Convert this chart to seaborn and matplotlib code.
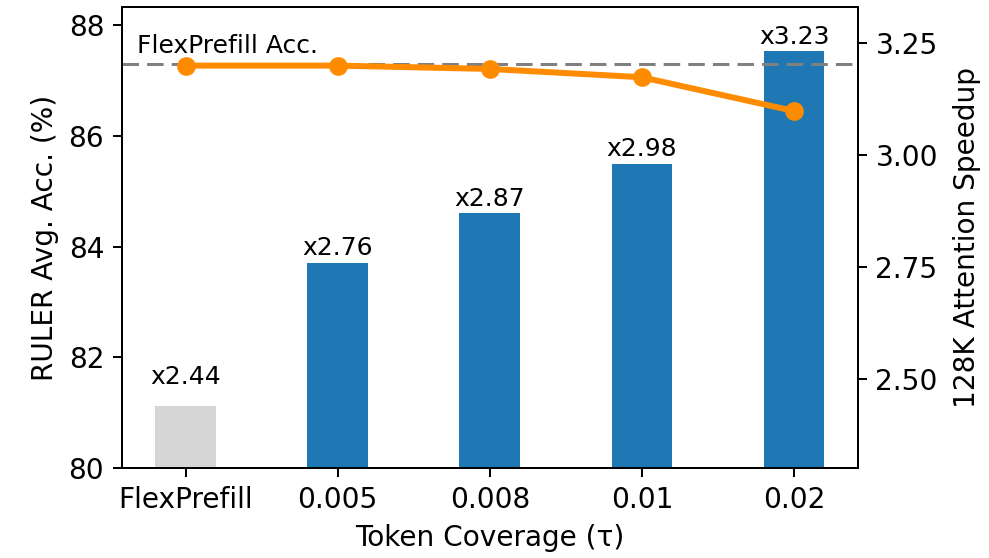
import matplotlib
matplotlib.use("Agg")
import matplotlib.pyplot as plt
from matplotlib.ticker import MultipleLocator
import seaborn as sns

# Data
categories = ["FlexPrefill", "0.005", "0.008", "0.01", "0.02"]
accuracy = [87.27, 87.27, 87.21, 87.06, 86.45]
speedup = [2.44, 2.76, 2.87, 2.98, 3.23]
speedup_labels = ["x2.44", "x2.76", "x2.87", "x2.98", "x3.23"]
baseline_acc = 87.3
bar_colors = ["#d6d6d6", "#1f77b4", "#1f77b4", "#1f77b4", "#1f77b4"]

plt.rcParams["font.size"] = 11.2

fig = plt.figure(figsize=(989 / 180, 558 / 180), dpi=180)
ax = fig.add_axes([0.123, 0.161, 0.7445, 0.8256])
ax2 = ax.twinx()

# Speedup bars on the right axis
sns.barplot(x=categories, y=speedup, hue=categories, palette=bar_colors,
            legend=False, width=0.4, saturation=1, ax=ax2)
label_pad = [7, 1, 1, 1, 1]
for cont, lab, pad in zip(ax2.containers, speedup_labels, label_pad):
    ax2.bar_label(cont, labels=[lab], padding=pad, fontsize=10)
ax2.set_ylim(2.302, 3.328)
ax2.yaxis.set_major_locator(MultipleLocator(0.25))
ax2.set_ylabel("128K Attention Speedup", fontsize=11.2, labelpad=6)

# Accuracy line on the left axis, drawn above the bars
ax.set_zorder(ax2.get_zorder() + 1)
ax.patch.set_visible(False)
sns.lineplot(x=categories, y=accuracy, sort=False, color="#ff8c00",
             linewidth=2.4, marker="o", markersize=7.5, markeredgewidth=0,
             ax=ax)
ax.axhline(baseline_acc, color="#808080", linestyle=(0, (5.5, 2.7)),
           linewidth=1.2, zorder=1)
ax.text(-0.32, 87.5, "FlexPrefill Acc.", fontsize=10, va="baseline", ha="left")
ax.set_ylim(80, 88.32)
ax.set_xlim(-0.42, 4.42)
ax.yaxis.set_major_locator(MultipleLocator(2))
ax.set_ylabel("RULER Avg. Acc. (%)", fontsize=11.2)
ax.set_xlabel("Token Coverage (τ)", fontsize=11.2)
ax2.set_xlim(-0.42, 4.42)

fig.savefig("out.png", dpi=180)
